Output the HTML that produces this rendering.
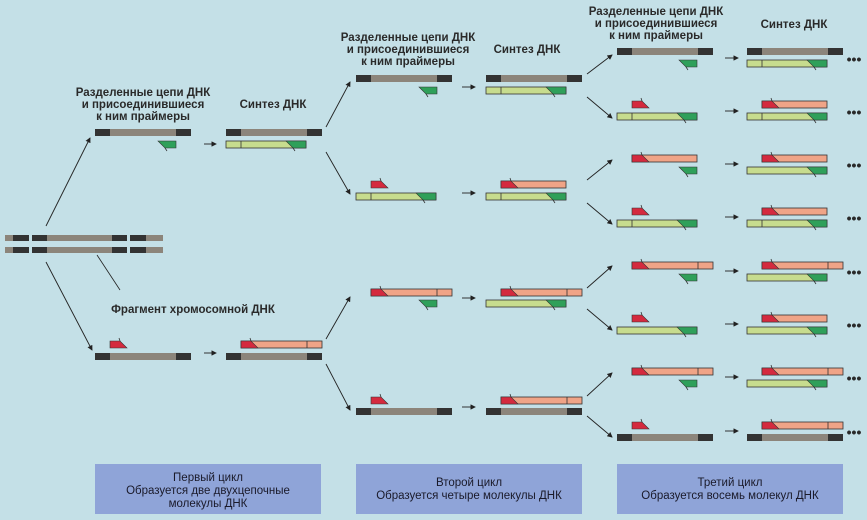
<!DOCTYPE html>
<html><head><meta charset="utf-8"><style>
html,body{margin:0;padding:0;background:#c4e0e7;}
svg{display:block}
text{font-family:"Liberation Sans",sans-serif;font-weight:bold;font-size:11.5px;fill:#2a2a2a;text-anchor:middle}
.bx text{font-weight:normal;font-size:11.5px;fill:#1a1a2a}
</style></head><body>
<svg width="867" height="520" viewBox="0 0 867 520" xmlns="http://www.w3.org/2000/svg">
<defs>
<g id="dk"><rect x="0" y="0" width="96" height="7" fill="#333"/><rect x="15" y="0" width="66" height="7" fill="#8c857b"/></g>
<g id="g80"><rect x="0" y="0" width="80" height="7" fill="#c7dc8e" stroke="#333" stroke-width="0.8"/><line x1="15" y1="0" x2="15" y2="7" stroke="#333" stroke-width="0.8"/><polygon points="60,0 80,0 80,7 67,7" fill="#2fa05a" stroke="#333" stroke-width="0.6"/><line x1="67" y1="7" x2="69" y2="10" stroke="#333" stroke-width="0.8"/></g>
<g id="g80n"><rect x="0" y="0" width="80" height="7" fill="#c7dc8e" stroke="#333" stroke-width="0.8"/><polygon points="60,0 80,0 80,7 67,7" fill="#2fa05a" stroke="#333" stroke-width="0.6"/><line x1="67" y1="7" x2="69" y2="10" stroke="#333" stroke-width="0.8"/></g>
<g id="gp"><polygon points="-18,0 0,0 0,7 -11,7" fill="#2fa05a" stroke="#333" stroke-width="0.6"/><line x1="-11" y1="7" x2="-9" y2="10" stroke="#333" stroke-width="0.8"/></g>
<g id="rp"><polygon points="0,0 10,0 17,7 0,7" fill="#d42a3e" stroke="#333" stroke-width="0.6"/><line x1="10" y1="0" x2="9" y2="-3" stroke="#333" stroke-width="0.8"/></g>
<g id="p80"><rect x="0" y="0" width="81" height="7" fill="#f0a487" stroke="#333" stroke-width="0.8"/><line x1="66" y1="0" x2="66" y2="7" stroke="#333" stroke-width="0.8"/><use href="#rp"/></g>
<g id="p65"><rect x="0" y="0" width="65" height="7" fill="#f0a487" stroke="#333" stroke-width="0.8"/><use href="#rp"/></g>
<marker id="ah" markerWidth="6" markerHeight="6" refX="5" refY="3" orient="auto"><path d="M0,0 L6,3 L0,6 z" fill="#222"/></marker>
</defs>

<!-- chromosome -->
<g>
<rect x="5" y="235" width="24" height="6" fill="#8c857b"/><rect x="13" y="235" width="16" height="6" fill="#333"/>
<rect x="32" y="235" width="95" height="6" fill="#333"/><rect x="47" y="235" width="65" height="6" fill="#8c857b"/>
<rect x="130" y="235" width="33" height="6" fill="#8c857b"/><rect x="130" y="235" width="16" height="6" fill="#333"/>
<rect x="5" y="247" width="24" height="6" fill="#8c857b"/><rect x="13" y="247" width="16" height="6" fill="#333"/>
<rect x="32" y="247" width="95" height="6" fill="#333"/><rect x="47" y="247" width="65" height="6" fill="#8c857b"/>
<rect x="130" y="247" width="33" height="6" fill="#8c857b"/><rect x="130" y="247" width="16" height="6" fill="#333"/>
</g>
<line x1="97" y1="255" x2="120" y2="290" stroke="#222" stroke-width="0.8"/>
<text x="193" y="313">Фрагмент хромосомной ДНК</text>

<g stroke="#222" stroke-width="0.9" marker-end="url(#ah)">
<line x1="46" y1="226" x2="90" y2="138"/>
<line x1="46" y1="262" x2="92" y2="350"/>
<line x1="204" y1="144" x2="216" y2="144"/>
<line x1="204" y1="353" x2="216" y2="353"/>
<line x1="326" y1="127" x2="350" y2="82"/>
<line x1="326" y1="152" x2="350" y2="194"/>
<line x1="326" y1="339" x2="350" y2="297"/>
<line x1="326" y1="364" x2="350" y2="410"/>
<line x1="462" y1="87" x2="475" y2="87"/>
<line x1="462" y1="193" x2="475" y2="193"/>
<line x1="462" y1="298" x2="475" y2="298"/>
<line x1="462" y1="407" x2="475" y2="407"/>
<line x1="587" y1="74" x2="612" y2="55"/>
<line x1="587" y1="97" x2="612" y2="118"/>
<line x1="587" y1="180" x2="612" y2="160"/>
<line x1="587" y1="203" x2="612" y2="224"/>
<line x1="587" y1="288" x2="612" y2="266"/>
<line x1="587" y1="309" x2="612" y2="330"/>
<line x1="587" y1="396" x2="612" y2="373"/>
<line x1="587" y1="416" x2="612" y2="437"/>
<line x1="725" y1="58" x2="738" y2="58"/>
<line x1="725" y1="111" x2="738" y2="111"/>
<line x1="725" y1="164" x2="738" y2="164"/>
<line x1="725" y1="217" x2="738" y2="217"/>
<line x1="725" y1="271" x2="738" y2="271"/>
<line x1="725" y1="324" x2="738" y2="324"/>
<line x1="725" y1="377" x2="738" y2="377"/>
<line x1="725" y1="431" x2="738" y2="431"/>
</g>

<!-- column 1 -->
<text x="143" y="96">Разделенные цепи ДНК</text>
<text x="143" y="108">и присоединившиеся</text>
<text x="143" y="120">к ним праймеры</text>
<text x="273" y="108">Синтез ДНК</text>
<use href="#dk" x="95" y="129"/>
<use href="#gp" x="176" y="141"/>
<use href="#dk" x="226" y="129"/>
<use href="#g80" x="226" y="141"/>
<use href="#rp" x="110" y="341"/>
<use href="#dk" x="95" y="353"/>
<use href="#p80" x="241" y="341"/>
<use href="#dk" x="226" y="353"/>

<!-- column 2 -->
<text x="408" y="41">Разделенные цепи ДНК</text>
<text x="408" y="53">и присоединившиеся</text>
<text x="408" y="65">к ним праймеры</text>
<text x="527" y="53">Синтез ДНК</text>
<use href="#dk" x="356" y="75"/>
<use href="#gp" x="437" y="87"/>
<use href="#dk" x="486" y="75"/>
<use href="#g80" x="486" y="87"/>
<use href="#rp" x="371" y="181"/>
<use href="#g80" x="356" y="193"/>
<use href="#p65" x="501" y="181"/>
<use href="#g80" x="486" y="193"/>
<use href="#p80" x="371" y="289"/>
<use href="#gp" x="437" y="300"/>
<use href="#p80" x="501" y="289"/>
<use href="#g80n" x="486" y="300"/>
<use href="#rp" x="371" y="397"/>
<use href="#dk" x="356" y="408"/>
<use href="#p80" x="501" y="397"/>
<use href="#dk" x="486" y="408"/>

<!-- column 3 -->
<text x="656" y="15">Разделенные цепи ДНК</text>
<text x="656" y="27">и присоединившиеся</text>
<text x="656" y="39">к ним праймеры</text>
<text x="794" y="28">Синтез ДНК</text>
<use href="#dk" x="617" y="48"/><use href="#gp" x="697" y="60"/>
<use href="#dk" x="747" y="48"/><use href="#g80" x="747" y="60"/>
<use href="#rp" x="632" y="101"/><use href="#g80" x="617" y="113"/>
<use href="#p65" x="762" y="101"/><use href="#g80" x="747" y="113"/>
<use href="#p65" x="632" y="155"/><use href="#gp" x="697" y="167"/>
<use href="#p65" x="762" y="155"/><use href="#g80n" x="747" y="167"/>
<use href="#rp" x="632" y="208"/><use href="#g80" x="617" y="220"/>
<use href="#p65" x="762" y="208"/><use href="#g80" x="747" y="220"/>
<use href="#p80" x="632" y="262"/><use href="#gp" x="697" y="274"/>
<use href="#p80" x="762" y="262"/><use href="#g80n" x="747" y="274"/>
<use href="#rp" x="632" y="315"/><use href="#g80n" x="617" y="327"/>
<use href="#p65" x="762" y="315"/><use href="#g80n" x="747" y="327"/>
<use href="#p80" x="632" y="368"/><use href="#gp" x="697" y="380"/>
<use href="#p80" x="762" y="368"/><use href="#g80n" x="747" y="380"/>
<use href="#rp" x="632" y="422"/><use href="#dk" x="617" y="434"/>
<use href="#p80" x="762" y="422"/><use href="#dk" x="747" y="434"/>
<g font-size="14" fill="#333">
<text x="854" y="64" style="font-size:14px">•••</text>
<text x="854" y="117" style="font-size:14px">•••</text>
<text x="854" y="170" style="font-size:14px">•••</text>
<text x="854" y="223" style="font-size:14px">•••</text>
<text x="854" y="277" style="font-size:14px">•••</text>
<text x="854" y="330" style="font-size:14px">•••</text>
<text x="854" y="383" style="font-size:14px">•••</text>
<text x="854" y="437" style="font-size:14px">•••</text>
</g>

<!-- boxes -->
<g class="bx">
<rect x="95" y="464" width="226" height="50" fill="#8fa4d8"/>
<text x="208" y="481">Первый цикл</text>
<text x="208" y="494">Образуется две двухцепочные</text>
<text x="208" y="507">молекулы ДНК</text>
<rect x="356" y="464" width="226" height="50" fill="#8fa4d8"/>
<text x="469" y="486">Второй цикл</text>
<text x="469" y="499">Образуется четыре молекулы ДНК</text>
<rect x="617" y="464" width="226" height="50" fill="#8fa4d8"/>
<text x="730" y="486">Третий цикл</text>
<text x="730" y="499">Образуется восемь молекул ДНК</text>
</g>
</svg>
</body></html>
